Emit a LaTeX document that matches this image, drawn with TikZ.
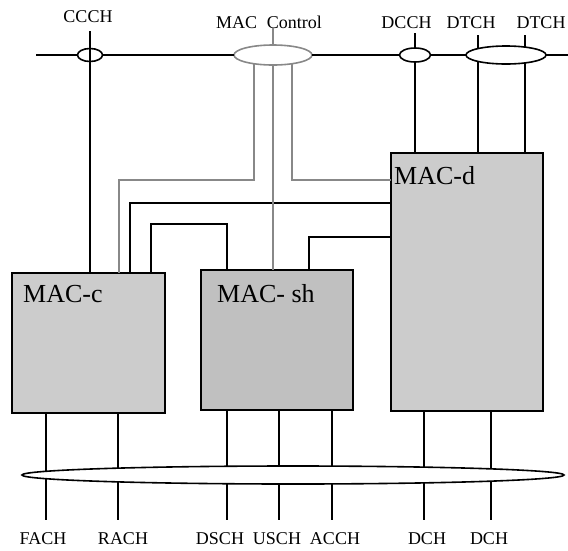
\documentclass[tikz,border=0pt]{standalone}
\usepackage{fontspec}
\setmainfont{Liberation Serif}
\usetikzlibrary{shapes.geometric}
\definecolor{boxlight}{HTML}{CCCCCC}
\definecolor{boxdark}{HTML}{C0C0C0}
\definecolor{ctrlgray}{HTML}{888888}
\begin{document}
\begin{tikzpicture}[x=1pt,y=-1pt,
  wire/.style={line width=1.6pt, draw=black},
  gwire/.style={line width=1.6pt, draw=ctrlgray},
  macbox/.style={draw=black, line width=1.6pt, inner sep=0pt, outer sep=0pt},
  chan/.style={draw=black, line width=1.6pt, ellipse, fill=white, inner sep=0pt, outer sep=0pt},
  small/.style={font=\fontsize{18}{20}\selectfont, inner sep=0pt, anchor=base},
  big/.style={font=\fontsize{26}{28}\selectfont, inner sep=0pt, anchor=base west}
]
\useasboundingbox (0,0) rectangle (568,550);

% boxes
\node[macbox, fill=boxlight, minimum width=153pt, minimum height=140pt] (macc) at (88.5,343) {};
\node[macbox, fill=boxdark, minimum width=152pt, minimum height=140pt] (macsh) at (277,340) {};
\node[macbox, fill=boxlight, minimum width=152pt, minimum height=258pt] (macd) at (467,282) {};
\node[big] (lmacc) at (23,302) {MAC-c};
\node[big] (lmacsh) at (217,302) {MAC- sh};
\node[big] (lmacd) at (394,184) {MAC-d};

% top channel ellipses
\node[chan, minimum width=25pt, minimum height=13pt] (eccch) at (90,55) {};
\node[chan, draw=ctrlgray, minimum width=78pt, minimum height=20pt] (emac) at (273,55) {};
\node[chan, minimum width=31pt, minimum height=14pt] (edcch) at (415,55) {};
\node[chan, minimum width=80pt, minimum height=18pt] (edtch) at (506,55) {};

% top labels
\node[small] (lccch) at (88,22) {CCCH};
\node[small] (lmacctl) at (269,28) {MAC\hspace{0.3em} Control};
\node[small] (ldcch) at (406.5,28) {DCCH};
\node[small] (ldtch1) at (471,28) {DTCH};
\node[small] (ldtch2) at (541,28) {DTCH};

% top horizontal line
\coordinate (tl) at (36,55);
\coordinate (tr) at (568,55);
\draw[wire] (tl) -- (eccch.west);
\draw[wire] (eccch.east) -- (emac.west);
\draw[wire] (emac.east) -- (edcch.west);
\draw[wire] (edcch.east) -- (edtch.west);
\draw[wire] (edtch.east) -- (tr);

% CCCH
\coordinate (tccch) at (90,31);
\draw[wire] (tccch) -- (tccch |- macc.north);

% MAC control (gray)
\coordinate (tctl) at (273,28);
\draw[gwire] (tctl) -- (emac.north);
\coordinate (gL) at (119,180);
\draw[gwire] (emac.-155) |- (gL) -- (gL |- macc.north);
\draw[gwire] (emac.-25) |- (macd.west |- gL);

% black control lines
\coordinate (b1) at (130,203);
\draw[wire] (macd.west |- b1) -- (b1) -- (b1 |- macc.north);
\coordinate (b2a) at (151,224);
\coordinate (b2b) at (227,224);
\draw[wire] (b2a |- macc.north) -- (b2a) -- (b2b) -- (b2b |- macsh.north);
\coordinate (b3) at (309,237);
\draw[wire] (b3 |- macsh.north) -- (b3) -- (macd.west |- b3);

\draw[gwire] (emac.south) -- (emac.south |- macsh.north);

% DCCH / DTCH
\coordinate (tdcch) at (415,33);
\draw[wire] (tdcch) -- (edcch.north);
\draw[wire] (edcch.south) -- (edcch.south |- macd.north);
\coordinate (tdt1) at (478,35);
\coordinate (tdt2) at (525,35);
\draw[wire] (tdt1) -- (tdt1 |- edtch.167);
\draw[wire] (tdt1 |- edtch.-167) -- (tdt1 |- macd.north);
\draw[wire] (tdt2) -- (tdt2 |- edtch.22.6);
\draw[wire] (tdt2 |- edtch.-22.6) -- (tdt2 |- macd.north);

% bottom transport channels
\coordinate (fach) at (46,520);
\coordinate (rach) at (118,520);
\coordinate (dsch) at (227,520);
\coordinate (usch) at (279,520);
\coordinate (acch) at (332,520);
\coordinate (dch1) at (424,520);
\coordinate (dch2) at (491,520);
\draw[wire] (fach |- macc.south) -- (fach);
\draw[wire] (rach |- macc.south) -- (rach);
\draw[wire] (dsch |- macsh.south) -- (dsch);
\draw[wire] (usch |- macsh.south) -- (usch);
\draw[wire] (acch |- macsh.south) -- (acch);
\draw[wire] (dch1 |- macd.south) -- (dch1);
\draw[wire] (dch2 |- macd.south) -- (dch2);

\node[chan, minimum width=542pt, minimum height=18pt] (ebot) at (293,475) {};

\node[small] (lfach) at (43,544) {FACH};
\node[small] (lrach) at (123,544) {RACH};
\node[small] (ldsch) at (220,544) {DSCH};
\node[small] (lusch) at (277,544) {USCH};
\node[small] (lacch) at (335,544) {ACCH};
\node[small] (ldch1) at (427,544) {DCH};
\node[small] (ldch2) at (489,544) {DCH};
\end{tikzpicture}
\end{document}
